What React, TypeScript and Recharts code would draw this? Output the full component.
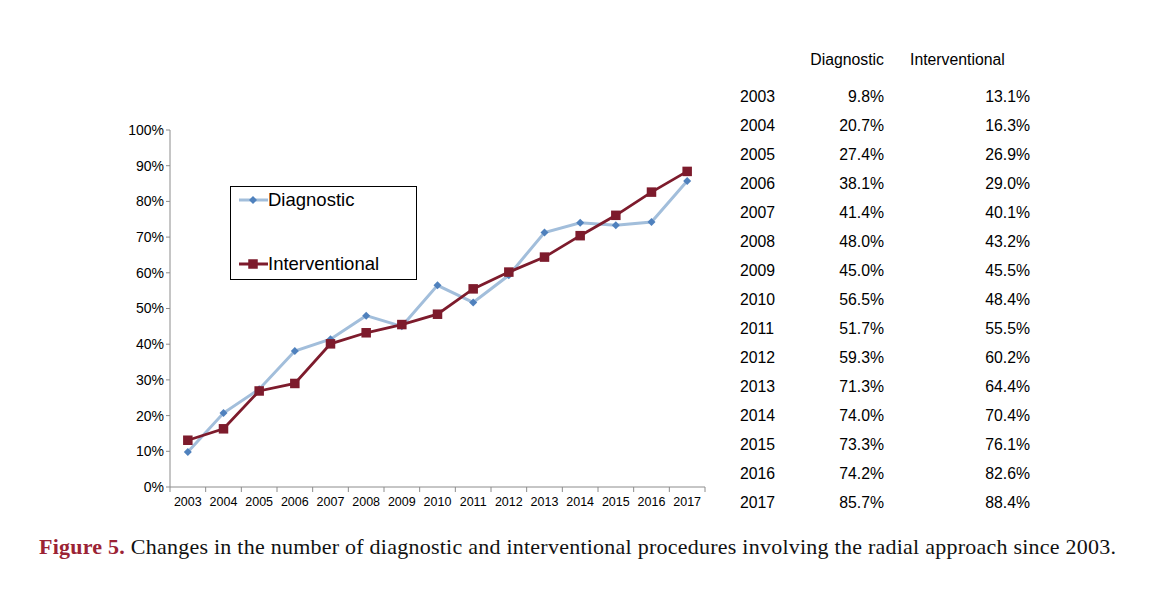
import { LineChart, Line, XAxis, YAxis, Legend } from "recharts";

const years = [2003, 2004, 2005, 2006, 2007, 2008, 2009, 2010, 2011, 2012, 2013, 2014, 2015, 2016, 2017];
const diagnostic = [9.8, 20.7, 27.4, 38.1, 41.4, 48.0, 45.0, 56.5, 51.7, 59.3, 71.3, 74.0, 73.3, 74.2, 85.7];
const interventional = [13.1, 16.3, 26.9, 29.0, 40.1, 43.2, 45.5, 48.4, 55.5, 60.2, 64.4, 70.4, 76.1, 82.6, 88.4];
const yTicks = [0, 10, 20, 30, 40, 50, 60, 70, 80, 90, 100];

const data = years.map((year, i) => ({
  year,
  diagnostic: diagnostic[i],
  interventional: interventional[i],
}));

const DIAG_LINE = "#a2bedb";
const DIAG_MARK = "#4f81bd";
const INT_COLOR = "#7d1b2c";
const AXIS = "#8c8c8c";
const FONT = "'Liberation Sans', Arial, sans-serif";

// plot width / number of years, used for the boundary tick marks
const BAND = (705 - 170) / years.length;

const Diamond = (props: any) => {
  const { cx, cy } = props;
  if (cx == null || cy == null) return null;
  const r = 4;
  return (
    <path
      d={`M${cx},${cy - r}L${cx + r},${cy}L${cx},${cy + r}L${cx - r},${cy}Z`}
      fill={DIAG_MARK}
    />
  );
};

const Square = (props: any) => {
  const { cx, cy } = props;
  if (cx == null || cy == null) return null;
  return <rect x={cx - 4.75} y={cy - 4.75} width={9.5} height={9.5} fill={INT_COLOR} />;
};

const YearTick = (props: any) => {
  const { x, y, payload, index } = props;
  return (
    <g>
      {index === 0 && <line x1={x - BAND / 2} x2={x - BAND / 2} y1={y - 8} y2={y - 3} stroke={AXIS} />}
      <line x1={x + BAND / 2} x2={x + BAND / 2} y1={y - 8} y2={y - 3} stroke={AXIS} />
      <text x={x} y={y + 11} textAnchor="middle" fontSize={12.5} fill="#000" fontFamily={FONT}>
        {payload.value}
      </text>
    </g>
  );
};

const LegendBox = () => (
  <div
    style={{
      width: 185,
      height: 92,
      border: "1.5px solid #000",
      background: "#fff",
      position: "relative",
      fontFamily: FONT,
      fontSize: 18.5,
      color: "#000",
    }}
  >
    <div style={{ position: "absolute", left: 8, top: 2, display: "flex", alignItems: "center" }}>
      <svg width={29} height={22}>
        <line x1={0} x2={29} y1={11} y2={11} stroke={DIAG_LINE} strokeWidth={3} />
        <path d="M14,7L18,11L14,15L10,11Z" fill={DIAG_MARK} />
      </svg>
      <span>Diagnostic</span>
    </div>
    <div style={{ position: "absolute", left: 8, top: 66, display: "flex", alignItems: "center" }}>
      <svg width={29} height={22}>
        <line x1={0} x2={29} y1={11} y2={11} stroke={INT_COLOR} strokeWidth={3} />
        <rect x={9.25} y={6.25} width={9.5} height={9.5} fill={INT_COLOR} />
      </svg>
      <span>Interventional</span>
    </div>
  </div>
);

const cell = (extra: React.CSSProperties): React.CSSProperties => ({
  position: "absolute",
  fontFamily: FONT,
  fontSize: 15.8,
  color: "#000",
  lineHeight: "18px",
  whiteSpace: "nowrap",
  ...extra,
});

export default function App() {
  return (
    <div style={{ position: "absolute", left: 0, top: 0, width: 1150, height: 598, background: "#fff" }}>
      <div style={{ position: "absolute", left: 0, top: 0 }}>
        <LineChart width={720} height={520} data={data} margin={{ top: 130, right: 15, left: 0, bottom: 0 }}>
          <XAxis
            dataKey="year"
            type="number"
            domain={[2002.5, 2017.5]}
            ticks={years}
            interval={0}
            tick={<YearTick />}
            tickLine={false}
            axisLine={{ stroke: AXIS }}
            height={33}
          />
          <YAxis
            domain={[0, 100]}
            ticks={yTicks}
            interval={0}
            width={170}
            tickFormatter={(v) => `${v}%`}
            tick={{ fontSize: 14, fill: "#000", fontFamily: FONT }}
            tickLine={{ stroke: AXIS }}
            tickSize={4}
            axisLine={{ stroke: AXIS }}
          />
          <Legend
            layout="horizontal"
            verticalAlign="middle"
            align="center"
            content={<LegendBox />}
            wrapperStyle={{ position: "absolute", left: 230, top: 186, width: "auto" }}
          />
          <Line
            dataKey="diagnostic"
            stroke={DIAG_LINE}
            strokeWidth={3}
            dot={<Diamond />}
            activeDot={false}
            isAnimationActive={false}
          />
          <Line
            dataKey="interventional"
            stroke={INT_COLOR}
            strokeWidth={2.8}
            dot={<Square />}
            activeDot={false}
            isAnimationActive={false}
          />
        </LineChart>
      </div>

      <div style={cell({ right: 1150 - 884, top: 51 })}>Diagnostic</div>
      <div style={cell({ left: 910, top: 51 })}>Interventional</div>
      {years.map((year, i) => (
        <div key={year}>
          <div style={cell({ left: 740, top: 88 + i * 29 })}>{year}</div>
          <div style={cell({ right: 1150 - 884, top: 88 + i * 29 })}>{diagnostic[i].toFixed(1)}%</div>
          <div style={cell({ right: 1150 - 1030, top: 88 + i * 29 })}>{interventional[i].toFixed(1)}%</div>
        </div>
      ))}

      <div
        style={{
          position: "absolute",
          left: 39,
          top: 534,
          fontFamily: "'Liberation Serif', serif",
          fontSize: 22,
          letterSpacing: 0.24,
          color: "#111",
          whiteSpace: "nowrap",
        }}
      >
        <span style={{ color: "#9b2335", fontWeight: "bold" }}>Figure 5.</span> Changes in the number of diagnostic
        and interventional procedures involving the radial approach since 2003.
      </div>
    </div>
  );
}
